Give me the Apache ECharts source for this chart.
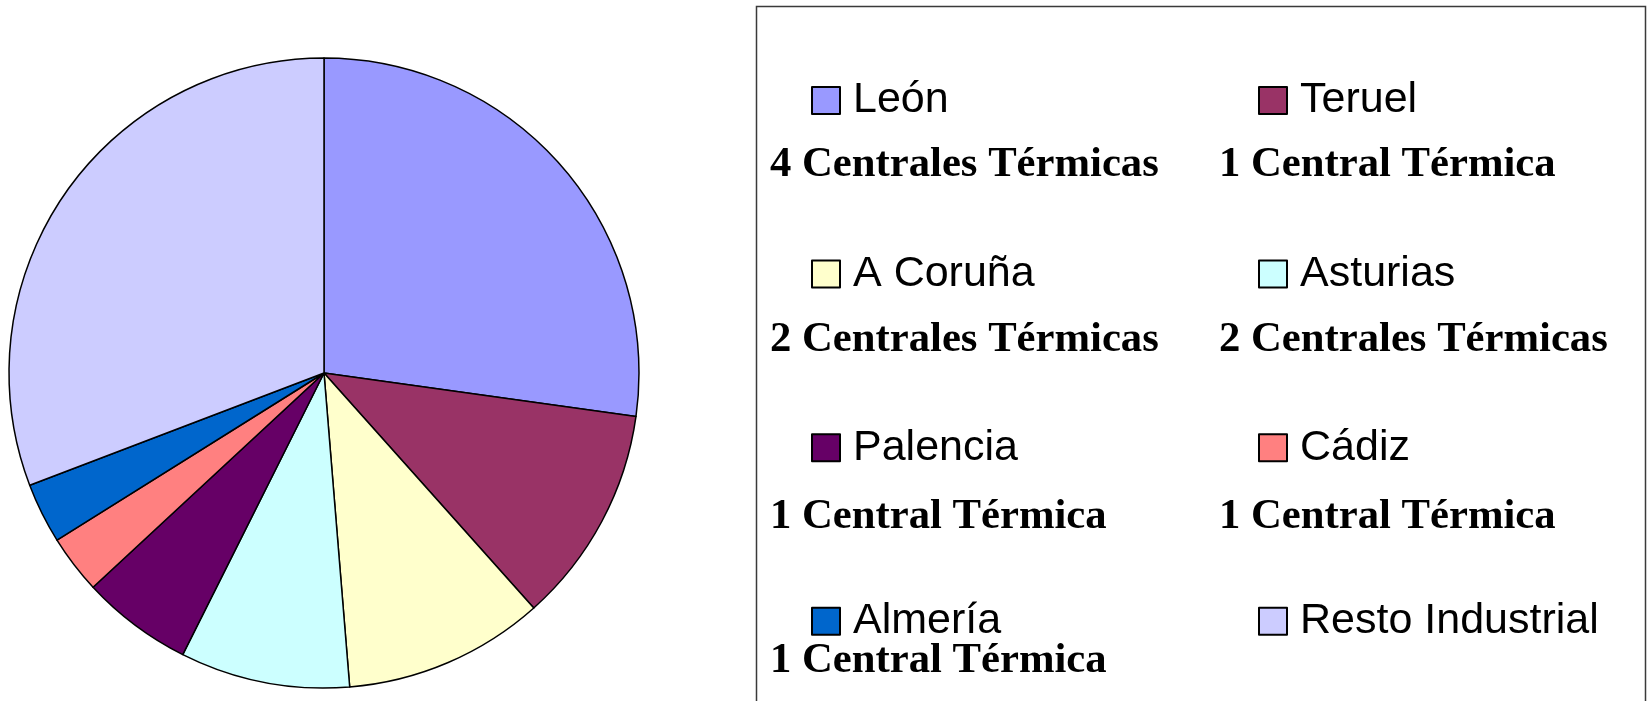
<!DOCTYPE html>
<html>
<head>
<meta charset="utf-8">
<script src="https://cdn.jsdelivr.net/npm/echarts@6/dist/echarts.min.js"></script>
<style>
  html, body { margin: 0; padding: 0; background: #fff; }
  #grafico { width: 1647px; height: 701px; }
</style>
</head>
<body>
<div id="grafico"></div>
<script>
// datos (porcentaje de cada sector)
const provincias = ['León', 'Teruel', 'A Coruña', 'Asturias', 'Palencia', 'Cádiz', 'Almería', 'Resto Industrial']
const valores = [27.2, 11.2, 10.3, 8.7, 5.7, 3.0, 3.1, 30.8]
const colores = ['#9999FF', '#993366', '#FFFFCC', '#CCFFFF', '#660066', '#FF8080', '#0066CC', '#CCCCFF']
const centrales = ['4 Centrales Térmicas', '1 Central Térmica', '2 Centrales Térmicas', '2 Centrales Térmicas',
  '1 Central Térmica', '1 Central Térmica', '1 Central Térmica', '']

const grafico = echarts.init(document.getElementById('grafico'))

// leyenda en dos columnas: índices pares a la izquierda, impares a la derecha
const colIzq = provincias.filter((_, i) => i % 2 === 0)
const colDer = provincias.filter((_, i) => i % 2 === 1)

function leyenda(datos, left) {
  return {
    data: datos,
    orient: 'vertical',
    left: left,
    top: 74,
    icon: 'rect',
    itemWidth: 28,
    itemHeight: 27,
    itemGap: 130.6,
    selectedMode: false,
    itemStyle: { borderColor: '#000', borderWidth: 2 },
    textStyle: {
      fontFamily: 'Liberation Sans',
      fontSize: 43,
      color: '#000',
      padding: [0, 0, 0, 8],
    },
  }
}

// textos en negrita bajo cada entrada
const filasBase = [175, 350, 527, 671]
const textos = centrales
  .map((t, i) => ({
    type: 'text',
    left: i % 2 === 0 ? 770 : 1219,
    top: filasBase[Math.floor(i / 2)] - 32,
    style: {
      text: t,
      font: 'bold 42.7px "Liberation Serif"',
      fill: '#000',
    },
  }))
  .filter(g => g.style.text)

const opciones = {
  animation: false,
  backgroundColor: '#fff',
  color: colores,
  legend: [leyenda(colIzq, 806), leyenda(colDer, 1253)],
  graphic: [
    {
      type: 'rect',
      shape: { x: 756.5, y: 6.5, width: 889, height: 740 },
      style: { fill: 'none', stroke: '#3a3a3a', lineWidth: 1.5 },
      z: -1,
    },
    ...textos,
  ],
  series: [
    {
      type: 'pie',
      center: [324, 373],
      radius: 315,
      startAngle: 90,
      clockwise: true,
      label: { show: false },
      labelLine: { show: false },
      emphasis: { disabled: true },
      itemStyle: { borderColor: '#000', borderWidth: 1.5 },
      data: provincias.map((p, i) => ({ name: p, value: valores[i] })),
    },
  ],
}

grafico.setOption(opciones)
</script>
</body>
</html>
